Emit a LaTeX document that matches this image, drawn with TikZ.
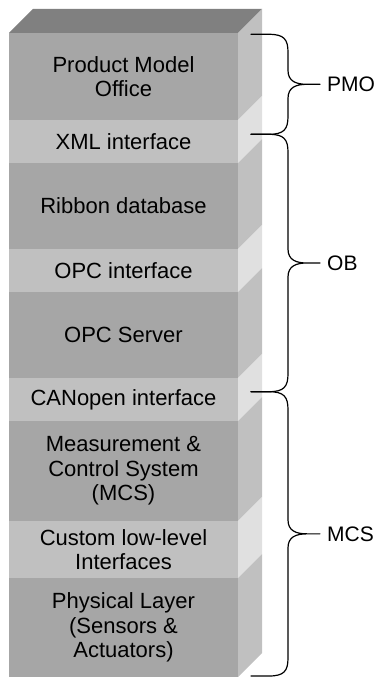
\documentclass[tikz,border=0pt]{standalone}
\usepackage{fontspec}
\setmainfont{Liberation Sans}
\usetikzlibrary{calc}
\definecolor{topc}{HTML}{808080}
\definecolor{frontdark}{HTML}{A6A6A6}
\definecolor{sidedark}{HTML}{C0C0C0}
\definecolor{frontlight}{HTML}{C0C0C0}
\definecolor{sidelight}{HTML}{E0E0E0}
\newcommand\stacklayer[6]{%
  \fill[#3] (9,#1) rectangle (238,#2);
  \fill[#4] (238,#1) -- (262,#1-24) -- (262,#2-24) -- (238,#2) -- cycle;
  \node[lbl] (#5) at (123.5,{(#1+#2)/2}) {#6};
}
\begin{document}
\begin{tikzpicture}[x=1pt,y=-1pt,
  lbl/.style={font=\fontsize{22}{24.5}\selectfont, align=center, inner sep=0pt},
  sidelbl/.style={font=\fontsize{21}{24}\selectfont, anchor=west, inner sep=0pt},
  curly/.style={draw=black, line width=1.2pt, line cap=round, line join=round, to path={
    let \p1=(\tikztostart), \p2=(\tikztotarget), \p3=($(\p1)!0.5!(\p2)$) in
    (\p1) -- (\x1+18pt,\y1) .. controls (\x1+33pt,\y1) and (\x1+37pt,\y1-5pt) .. (\x1+37pt,\y1-18pt)
    -- (\x1+37pt,\y3+14pt) .. controls (\x1+37pt,\y3+3pt) and (\x1+45pt,\y3) .. (\x1+56pt,\y3)
    -- (\x1+69pt,\y3)
    (\x1+56pt,\y3) .. controls (\x1+45pt,\y3) and (\x1+37pt,\y3-3pt) .. (\x1+37pt,\y3-14pt)
    -- (\x1+37pt,\y2+18pt) .. controls (\x1+37pt,\y2+5pt) and (\x1+33pt,\y2) .. (\x1+18pt,\y2) -- (\p2)
  }}]
\useasboundingbox (0,0) rectangle (377,677);
% top face
\fill[topc] (9,33) -- (33,9) -- (262,9) -- (238,33) -- cycle;
\stacklayer{33}{120}{frontdark}{sidedark}{pmo}{Product Model\\Office}
\stacklayer{120}{163}{frontlight}{sidelight}{xml}{XML interface}
\stacklayer{163}{249}{frontdark}{sidedark}{rib}{Ribbon database}
\stacklayer{249}{292}{frontlight}{sidelight}{opci}{OPC interface}
\stacklayer{292}{378}{frontdark}{sidedark}{opcs}{OPC Server}
\stacklayer{378}{421}{frontlight}{sidelight}{can}{CANopen interface}
\stacklayer{421}{521}{frontdark}{sidedark}{mcsl}{Measurement \&\\Control System\\(MCS)}
\stacklayer{521}{578}{frontlight}{sidelight}{cust}{Custom low-level\\Interfaces}
\stacklayer{578}{677}{frontdark}{sidedark}{phys}{Physical Layer\\(Sensors \&\\Actuators)}
% braces
\coordinate (b0) at (251,34.3);
\coordinate (b1) at (251,134.3);
\coordinate (b2) at (251,391.7);
\coordinate (b3) at (251,676);
\draw[curly] (b0) to (b1);
\draw[curly] (b1) to (b2);
\draw[curly] (b2) to (b3);
\node[sidelbl] (lpmo) at (327,84.3) {PMO};
\node[sidelbl] (lob) at (327,263) {OB};
\node[sidelbl] (lmcs) at (327,533.9) {MCS};
\end{tikzpicture}
\end{document}
